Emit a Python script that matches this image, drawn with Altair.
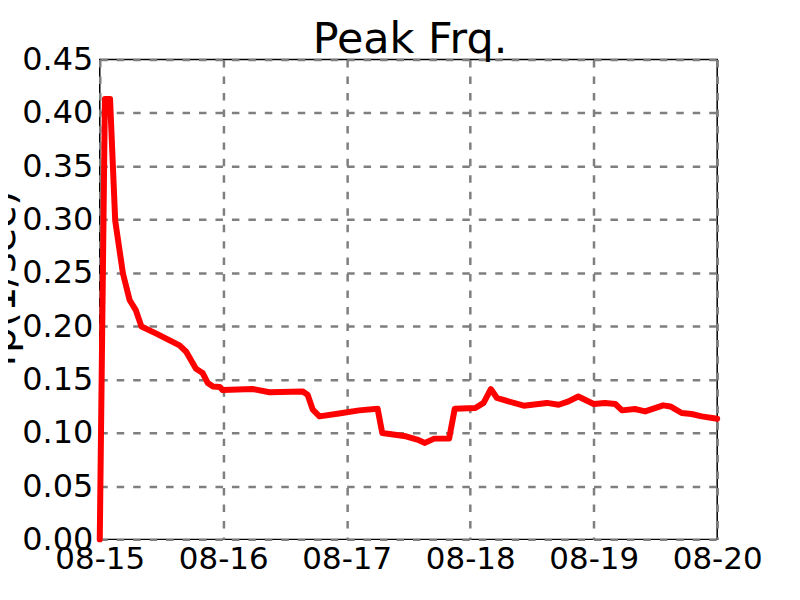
import altair as alt
import pandas as pd

# hours after 08-15 00:00, peak frequency (1/sec)
hours = [0, 1, 2, 3, 4.5, 5.8, 7, 8.1, 11, 15.5, 16.8, 18.7, 20, 21, 22, 23.3, 23.9,
         29.7, 33, 39.4, 40.4, 41.4, 42.7, 46.5, 50.4, 54, 54.9, 59.5, 61.7, 63.2,
         65, 67.9, 69, 73, 74.6, 76, 77.2, 78.8, 82.4, 86.9, 89.2, 91.1, 93, 96,
         98.2, 100.2, 101.5, 104, 106, 109.5, 110.9, 113.1, 115, 117, 120]
fp = [0.0, 0.413, 0.413, 0.299, 0.2495, 0.2245, 0.215, 0.1996, 0.193, 0.182, 0.176,
      0.160, 0.156, 0.1466, 0.1434, 0.143, 0.140, 0.141, 0.138, 0.1388, 0.1357,
      0.1216, 0.1154, 0.118, 0.121, 0.1226, 0.0998, 0.0967, 0.0936, 0.0905,
      0.0945, 0.0945, 0.1226, 0.1232, 0.128, 0.141, 0.1326, 0.1303, 0.1254,
      0.128, 0.1263, 0.1294, 0.134, 0.127, 0.128, 0.127, 0.121, 0.1223, 0.120,
      0.1257, 0.1247, 0.1185, 0.1176, 0.1154, 0.1132]
y_ticks = [0.0, 0.05, 0.10, 0.15, 0.20, 0.25, 0.30, 0.35, 0.40, 0.45]
days = [15, 16, 17, 18, 19, 20]
title_text = ["Peak Frq."]

df = pd.DataFrame({
    "t": pd.Timestamp("2015-08-15") + pd.to_timedelta(hours, unit="h"),
    "fp": fp,
})

day_ticks = [alt.DateTime(year=2015, month=8, date=d) for d in days]

# matplotlib風の破線グリッド
grid = dict(grid=True, gridColor="#7f7f7f", gridDash=[7.5, 9], gridWidth=2.5, gridOpacity=1)

line = alt.Chart(df).mark_line(
    color="#ff0000", strokeWidth=6, strokeJoin="round", strokeCap="round"
).encode(
    x=alt.X("t:T",
            scale=alt.Scale(domain=[day_ticks[0], day_ticks[-1]], nice=False),
            axis=alt.Axis(values=day_ticks, format="%m-%d", title=None,
                          labelFontSize=31, labelPadding=5, ticks=False, domain=False,
                          labelOverlap=False, labelFlush=False, labelBound=False,
                          labelColor="black", labelLimit=200, **grid)),
    y=alt.Y("fp:Q",
            scale=alt.Scale(domain=[0, 0.45], nice=False, zero=False),
            axis=alt.Axis(values=y_ticks, format=".2f", title="fp(1/sec)",
                          labelFontSize=32, labelPadding=7, ticks=False, domain=False,
                          labelOverlap=False, labelFlush=False, labelBound=False,
                          labelColor="black", labelLimit=200,
                          titleFontSize=40, titleFontWeight="normal", titleColor="black",
                          titleAngle=270, titleAlign="center", titleBaseline="alphabetic",
                          titleX=-85, titleY=219, **grid)),
)

# タイトルはテキストマークで置く
title = alt.Chart(pd.DataFrame({"title": title_text})).mark_text(
    fontSize=43, color="black", align="center", baseline="alphabetic"
).encode(
    text="title:N",
    x=alt.value(311),
    y=alt.value(-7),
)

chart = alt.layer(line, title).properties(
    width=619,
    height=481,
    autosize=alt.AutoSizeParams(type="none"),
    padding={"left": 92, "top": 51, "right": 75, "bottom": 40},
).configure(
    font="DejaVu Sans", background="white"
).configure_view(
    stroke="black", strokeWidth=1.5
)

chart.save("out.html", embed_options={"renderer": "svg", "actions": False})
